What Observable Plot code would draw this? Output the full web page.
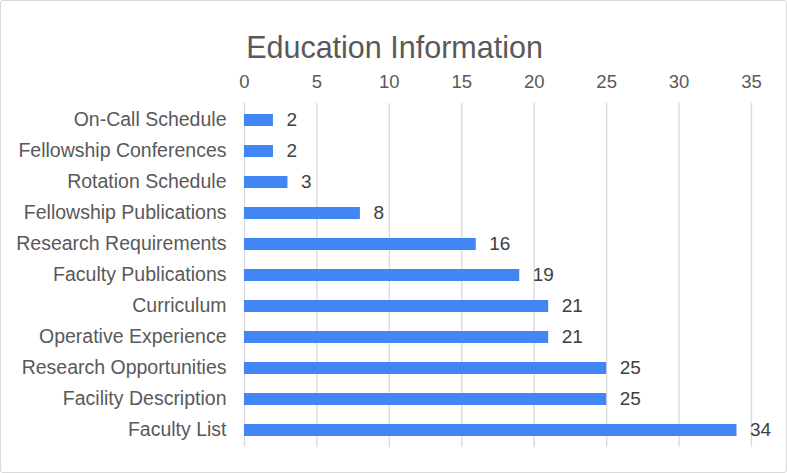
<!DOCTYPE html>
<html><head><meta charset="utf-8">
<script src="https://cdn.jsdelivr.net/npm/d3@7"></script>
<script src="https://cdn.jsdelivr.net/npm/@observablehq/plot@0.6"></script>
<style>
body{margin:0;background:#fff;}
#wrap{position:relative;width:787px;height:473px;}
#border{position:absolute;left:0;top:0;width:787px;height:473px;box-sizing:border-box;border:1.5px solid #d9d9d9;border-radius:3px;pointer-events:none;}
</style>
</head><body>
<div id="wrap"><div id="border"></div></div>
<script>
const title = "Education Information";
const categories = ["On-Call Schedule","Fellowship Conferences","Rotation Schedule","Fellowship Publications","Research Requirements","Faculty Publications","Curriculum","Operative Experience","Research Opportunities","Facility Description","Faculty List"];
const values = [2,2,3,8,16,19,21,21,25,25,34];
const ticks = [0,5,10,15,20,25,30,35];

const data = categories.map((c,i)=>({category:c, value:values[i]}));
const font = "'Liberation Sans', Arial, sans-serif";

const chart = Plot.plot({
  width: 787,
  height: 473,
  marginLeft: 244,
  marginRight: 36,
  marginTop: 103,
  marginBottom: 26,
  style: {fontFamily: font, background: "transparent"},
  x: {domain: [0,35], ticks: ticks, axis: null, label: null},
  y: {domain: categories, paddingInner: 0.62, paddingOuter: 0.27, axis: null, label: null},
  marks: [
    Plot.ruleX(ticks, {stroke: "#d9d9d9", strokeWidth: 1.3}),
    Plot.barX(data, {x: "value", y: "category", fill: "#4285F4"}),
    Plot.axisX({anchor: "top", ticks: ticks, tickSize: 0, tickPadding: 16, fontSize: 18.5, fill: "#595959", tickFormat: d=>String(d), label: null}),
    Plot.axisY({anchor: "left", tickSize: 0, tickPadding: 18, fontSize: 19.5, fill: "#595959", label: null, dy: -1}),
    Plot.text(data, {x: "value", y: "category", text: d=>String(d.value), textAnchor: "start", dx: 13, dy: -1, fontSize: 19, fill: "#404040"}),
    Plot.text([title], {frameAnchor: "top", dx: -103.5, dy: -67, fontSize: 30.5, fill: "#595959", text: d=>d})
  ]
});
document.getElementById("wrap").prepend(chart);
</script>
</body></html>
